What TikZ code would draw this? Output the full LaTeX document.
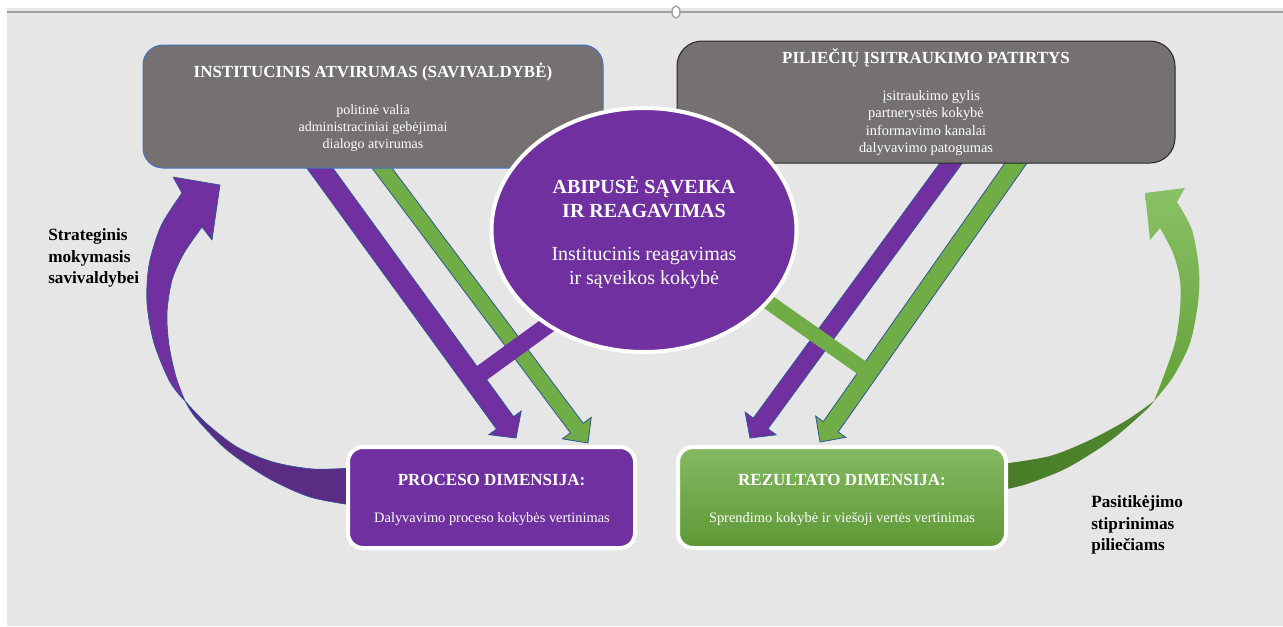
\documentclass[tikz,border=0pt]{standalone}
\usepackage{fontspec}
\setmainfont{Liberation Serif}
\usetikzlibrary{calc,shapes.geometric}
\definecolor{bgc}{HTML}{E6E6E6}
\definecolor{grayfill}{HTML}{767171}
\definecolor{purp}{HTML}{7030A0}
\definecolor{purpdark}{HTML}{5A2C84}
\definecolor{grn}{HTML}{70AD47}
\definecolor{grnlight}{HTML}{8AC166}
\definecolor{grnmid}{HTML}{62A038}
\definecolor{grndark}{HTML}{51892D}
\definecolor{arrowline}{HTML}{2F5597}
\definecolor{boxblue}{HTML}{4472C4}
\definecolor{boxdark}{HTML}{262626}
\definecolor{topline}{HTML}{A0A0A0}
% #1 start, #2 tip, #3 half shaft, #4 half head, #5 head length, #6 colour, #7 prefix
\newcommand{\blockarrow}[7]{%
  \path ($(#2)!#5!(#1)$) coordinate (#7hb);
  \filldraw[fill=#6, draw=arrowline, line width=0.6pt, line join=miter]
    ($(#1)!#3!90:(#2)$) -- ($(#7hb)!#3!90:(#2)$) -- ($(#7hb)!#4!90:(#2)$) -- (#2)
    -- ($(#7hb)!#4!-90:(#2)$) -- ($(#7hb)!#3!-90:(#2)$) -- ($(#1)!#3!-90:(#2)$) -- cycle;
}
\begin{document}
\begin{tikzpicture}[x=0.75pt,y=-0.75pt,
  graybox/.style={rectangle, fill=grayfill, line width=0.75pt},
  whitebox/.style={rectangle, draw=white, line width=3pt, rounded corners=11.25pt,
    minimum height=75.75pt},
  lbl/.style={inner sep=0pt, text=white, align=center},
  sidelbl/.style={inner sep=0pt, text=black, align=left, anchor=west,
    font=\fontsize{12.9}{16.1}\selectfont\bfseries},
  curvline/.style={draw=arrowline, line width=0.5pt, line join=round}
]
\useasboundingbox (0,0) rectangle (1283,626);
% background
\fill[white] (0,0) rectangle (1283,626);
\fill[bgc] (7,8) rectangle (1283,626);
\draw[topline, line width=1pt] (7,12) -- (1283,12);
\draw[topline, fill=white, line width=1pt] (676,12) ellipse [x radius=4, y radius=6];

% curved arrow left (purple)
\filldraw[fill=purpdark, curvline]
  plot[smooth] coordinates {(185,401) (196,418) (227,450) (268,478) (310,497) (352,505)}
  -- (352,468)
  -- plot[smooth] coordinates {(352,468) (313,469) (273,462) (237,447) (206,423) (185,401)} -- cycle;
\filldraw[fill=purp, curvline]
  plot[smooth] coordinates {(185,401) (170,382) (154,343) (147,303) (149,265) (161,226) (182,193)}
  -- (173,177) -- (220,185) -- (212,240)
  -- plot[smooth] coordinates {(202,227) (184,253) (172,280) (167,313) (169,345) (176,377) (185,401)} -- cycle;

% curved arrow right (green)
\shade[left color=grndark!90!black, right color=grndark]
  plot[smooth] coordinates {(1154,401) (1145,411) (1110,441) (1067,468) (1027,484) (1002,490)}
  -- (1002,464)
  -- plot[smooth] coordinates {(1002,464) (1050,456) (1090,440) (1127,420) (1154,401)} -- cycle;
\shade[top color=grnlight, bottom color=grnmid]
  plot[smooth] coordinates {(1154,401) (1173,377) (1190,343) (1198,303) (1199,270) (1192,230) (1177,202)}
  -- (1185,188) -- (1145,193) -- (1150,240)
  -- plot[smooth] coordinates {(1160,228) (1173,253) (1180,280) (1180,310) (1175,343) (1163,378) (1154,401)} -- cycle;

% straight block arrows
\coordinate (lps) at (314,160);   \coordinate (lpt) at (516,438);
\coordinate (lgs) at (376,160);   \coordinate (lgt) at (588,443);
\coordinate (rps) at (957,155);   \coordinate (rpt) at (750,438);
\coordinate (rgs) at (1021.6,155); \coordinate (rgt) at (820,442);
\blockarrow{lps}{lpt}{7.9pt}{15pt}{14pt}{purp}{lp}
\blockarrow{lgs}{lgt}{6pt}{13.5pt}{14pt}{grn}{lg}
\blockarrow{rps}{rpt}{6.8pt}{14.4pt}{13.5pt}{purp}{rp}
\blockarrow{rgs}{rgt}{6.8pt}{13.8pt}{14pt}{grn}{rg}

% connecting bars from the ellipse
\coordinate (pbar) at (570,309);
\coordinate (gbar) at (744,285);
\draw[purp, line width=12.75pt] (pbar) -- ($(lps)!(pbar)!(lpt)$);
\draw[grn, line width=11.25pt] (gbar) -- ($(rgs)!(gbar)!(rgt)$);

% top boxes
\node[graybox, draw=boxblue, rounded corners=15pt, minimum width=345pt, minimum height=92.25pt]
  (inst) at (373,106.5) {};
\node[graybox, draw=boxdark, rounded corners=18.75pt, minimum width=373.5pt, minimum height=91.5pt]
  (pil) at (926,102) {};

% ellipse
\node[ellipse, fill=purp, draw=white, line width=3pt, minimum width=228.75pt, minimum height=183pt]
  (abi) at (644,230) {};

% bottom boxes
\node[whitebox, fill=purp, minimum width=215.25pt] (proc) at (491.5,497.5) {};
\node[whitebox, top color=grn!85!white, bottom color=grnmid!95!black, minimum width=246pt] (rez) at (842,497.5) {};

% texts
\node[lbl, font=\fontsize{12.7}{15}\selectfont\bfseries] (insttitle) at (373,72) {INSTITUCINIS ATVIRUMAS (SAVIVALDYBĖ)};
\node[lbl, font=\fontsize{10.5}{12.75}\selectfont] (instbody) at (373,128.5) {politinė valia\\administraciniai gebėjimai\\dialogo atvirumas};
\node[lbl, font=\fontsize{12.7}{15}\selectfont\bfseries] (piltitle) at (926,58) {PILIEČIŲ ĮSITRAUKIMO PATIRTYS};
\node[lbl, font=\fontsize{10.8}{12.9}\selectfont] (pilbody) at (926,123) {\hspace*{8pt}įsitraukimo gylis\\partnerystės kokybė\\informavimo kanalai\\dalyvavimo patogumas};
\node[lbl, font=\fontsize{15}{17.5}\selectfont\bfseries] (abititle) at (644,197) {ABIPUSĖ SĄVEIKA\\IR REAGAVIMAS};
\node[lbl, font=\fontsize{15}{17.5}\selectfont] (abibody) at (644,268) {Institucinis reagavimas\\ir sąveikos kokybė};
\node[lbl, font=\fontsize{12.75}{15}\selectfont\bfseries] (proctitle) at (491.5,480) {PROCESO DIMENSIJA:};
\node[lbl, font=\fontsize{10.8}{13}\selectfont] (procsub) at (492,519) {Dalyvavimo proceso kokybės vertinimas};
\node[lbl, font=\fontsize{12.75}{15}\selectfont\bfseries] (reztitle) at (842,480) {REZULTATO DIMENSIJA:};
\node[lbl, font=\fontsize{10.8}{13}\selectfont] (rezsub) at (842,519) {Sprendimo kokybė ir viešoji vertės vertinimas};
\node[sidelbl] (leftlbl) at (48,258) {Strateginis\\mokymasis\\savivaldybei};
\node[sidelbl] (rightlbl) at (1091,525) {Pasitikėjimo\\stiprinimas\\piliečiams};
\end{tikzpicture}
\end{document}
